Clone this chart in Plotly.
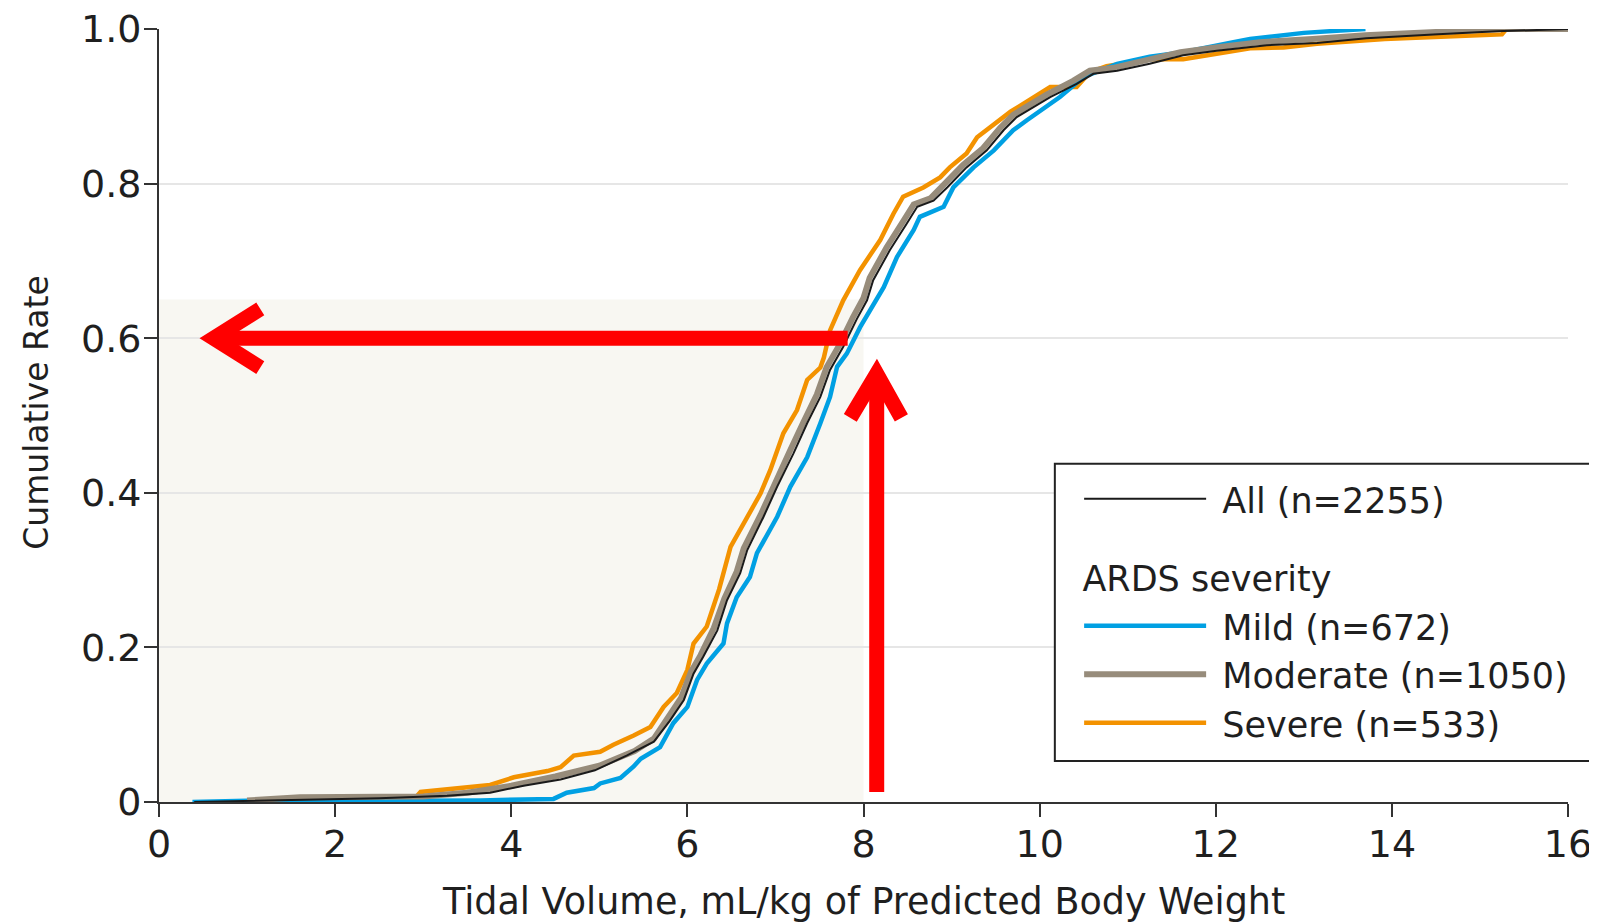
import plotly.graph_objects as go

# ---------------- data ----------------
all_x = [0.40, 1.2, 2.0, 2.5, 3.27, 3.76, 4.14, 4.56, 4.95, 5.31, 5.62, 5.80, 5.96, 6.07, 6.18,
         6.34, 6.45, 6.60, 6.68, 6.865, 7.02, 7.205, 7.36, 7.51, 7.62, 7.77, 7.925, 8.04, 8.11,
         8.30, 8.49, 8.61, 8.795, 8.95, 9.17, 9.40, 9.59, 9.74, 10.12, 10.42, 10.61, 10.88,
         11.25, 11.63, 12.01, 12.58, 13.15, 13.71, 14.47, 15.19, 16.0]
all_y = [0.0, 0.002, 0.004, 0.005, 0.008, 0.012, 0.021, 0.029, 0.041, 0.060, 0.078, 0.105, 0.132,
         0.166, 0.188, 0.222, 0.261, 0.296, 0.326, 0.369, 0.408, 0.451, 0.490, 0.524, 0.559,
         0.589, 0.625, 0.649, 0.675, 0.714, 0.748, 0.770, 0.778, 0.795, 0.821, 0.843, 0.869,
         0.886, 0.912, 0.929, 0.942, 0.946, 0.955, 0.966, 0.972, 0.979, 0.982, 0.988, 0.993,
         0.997, 1.0]

mild_x = [0.38, 1.0, 2.8, 3.65, 4.48, 4.63, 4.94, 5.01, 5.24, 5.39, 5.47, 5.69, 5.84, 6.0, 6.11,
          6.22, 6.41, 6.45, 6.56, 6.71, 6.79, 7.02, 7.17, 7.36, 7.51, 7.62, 7.70, 7.81, 7.96,
          8.10, 8.23, 8.38, 8.57, 8.64, 8.91, 9.02, 9.25, 9.48, 9.70, 9.855, 10.23, 10.50,
          10.88, 11.25, 11.63, 12.20, 12.39, 13.0, 13.7]
mild_y = [0.0, 0.0015, 0.0015, 0.002, 0.004, 0.012, 0.018, 0.024, 0.031, 0.046, 0.056, 0.071,
          0.102, 0.123, 0.158, 0.179, 0.205, 0.231, 0.265, 0.291, 0.322, 0.369, 0.408, 0.446,
          0.490, 0.524, 0.563, 0.580, 0.614, 0.640, 0.666, 0.705, 0.740, 0.757, 0.770, 0.795,
          0.821, 0.843, 0.869, 0.882, 0.912, 0.938, 0.955, 0.964, 0.970, 0.983, 0.987, 0.995,
          1.0]

moderate_x = [1.0, 1.5, 1.6, 3.0, 3.5, 4.0, 4.5, 5.0, 5.4, 5.62, 5.78, 5.93, 6.04, 6.15, 6.30,
              6.42, 6.56, 6.64, 6.83, 6.98, 7.16, 7.32, 7.47, 7.58, 7.73, 7.88, 8.0, 8.07, 8.26,
              8.45, 8.57, 8.76, 8.91, 9.13, 9.36, 9.55, 9.70, 10.08, 10.38, 10.57, 10.85, 11.2,
              11.6, 12.0, 12.5, 13.1, 13.7, 14.5, 15.2, 16.0]
moderate_y = [0.002, 0.004, 0.006, 0.007, 0.012, 0.021, 0.033, 0.047, 0.066, 0.082, 0.108, 0.135,
              0.168, 0.190, 0.225, 0.263, 0.298, 0.328, 0.371, 0.410, 0.453, 0.492, 0.527, 0.562,
              0.592, 0.627, 0.652, 0.678, 0.717, 0.751, 0.773, 0.781, 0.798, 0.824, 0.846, 0.872,
              0.889, 0.915, 0.933, 0.946, 0.950, 0.960, 0.970, 0.976, 0.983, 0.987, 0.992, 0.996,
              1.0, 1.0]

severe_x = [1.6, 2.9, 2.97, 3.27, 3.76, 4.03, 4.41, 4.56, 4.71, 5.01, 5.16, 5.39, 5.58, 5.73, 5.88,
            6.0, 6.07, 6.22, 6.30, 6.36, 6.49, 6.68, 6.83, 6.94, 7.09, 7.245, 7.36, 7.51, 7.55,
            7.62, 7.77, 7.96, 8.19, 8.34, 8.45, 8.68, 8.87, 8.98, 9.17, 9.29, 9.67, 10.12, 10.42,
            10.57, 10.76, 11.25, 11.63, 12.01, 12.39, 12.77, 13.15, 13.92, 14.17, 15.04, 15.25,
            15.3]
severe_y = [0.002, 0.004, 0.013, 0.016, 0.022, 0.032, 0.040, 0.045, 0.060, 0.065, 0.074, 0.086,
            0.097, 0.123, 0.141, 0.171, 0.205, 0.227, 0.252, 0.275, 0.330, 0.369, 0.399, 0.429,
            0.477, 0.507, 0.546, 0.562, 0.575, 0.610, 0.649, 0.688, 0.727, 0.761, 0.783, 0.795,
            0.808, 0.821, 0.839, 0.860, 0.893, 0.925, 0.925, 0.944, 0.952, 0.961, 0.961, 0.968,
            0.975, 0.976, 0.981, 0.987, 0.988, 0.991, 0.993, 1.0]

series_names = ["All (n=2255)", "Mild (n=672)", "Moderate (n=1050)", "Severe (n=533)"]
group_title = "ARDS severity"
x_title = "Tidal Volume, mL/kg of Predicted Body Weight"
y_title = "Cumulative Rate"
x_ticks = [0, 2, 4, 6, 8, 10, 12, 14, 16]
y_ticks = [0, 0.2, 0.4, 0.6, 0.8, 1.0]
y_tick_labels = ["0", "0.2", "0.4", "0.6", "0.8", "1.0"]

# highlighted region and arrows (annotation geometry, in data units)
shade_x = [0, 8.0]
shade_y = [0, 0.65]
h_arrow_shaft = [(0.66, 0.6), (7.82, 0.6)]
h_arrow_head = [(1.15, 0.638), (0.62, 0.6), (1.15, 0.562)]
v_arrow_shaft = [(8.15, 0.013), (8.15, 0.54)]
v_arrow_head = [(7.85, 0.497), (8.15, 0.554), (8.43, 0.497)]

# ---------------- styles ----------------
FONT = "DejaVu Sans"
TXT = "#1f1f1f"
C_ALL = "#1a1a1a"
C_MILD = "#00a0e3"
C_MOD = "#978c7b"
C_SEV = "#f39200"
RED = "#ff0000"
NB = "\u00a0"

fig = go.Figure()

# draw order: severe, mild, moderate, all (all on top)
fig.add_trace(go.Scatter(x=severe_x, y=severe_y, mode="lines", name=NB + series_names[3],
                         line=dict(color=C_SEV, width=4.5), legendgroup="sev",
                         legendrank=4, cliponaxis=False,
                         legendgrouptitle=dict(text=NB + NB + group_title,
                                               font=dict(size=35, color=TXT, family=FONT))))
fig.add_trace(go.Scatter(x=mild_x, y=mild_y, mode="lines", name=NB + series_names[1],
                         line=dict(color=C_MILD, width=4.5), legendgroup="sev",
                         legendrank=2, cliponaxis=False))
fig.add_trace(go.Scatter(x=moderate_x, y=moderate_y, mode="lines", name=NB + series_names[2],
                         line=dict(color=C_MOD, width=6), legendgroup="sev",
                         legendrank=3, cliponaxis=False))
fig.add_trace(go.Scatter(x=all_x, y=all_y, mode="lines", name=NB + series_names[0],
                         line=dict(color=C_ALL, width=2), legendgroup="all",
                         legendrank=1, cliponaxis=False))

shapes = [
    dict(type="rect", xref="x", yref="y", x0=shade_x[0], x1=shade_x[1], y0=shade_y[0], y1=shade_y[1],
         fillcolor="#f8f7f2", line=dict(width=0), layer="below"),
    # legend frame
    dict(type="rect", xref="paper", yref="paper", x0=0.6358, x1=1.0185, y0=0.053, y1=0.4376,
         fillcolor="white", line=dict(color="#222222", width=2), layer="above"),
]


def path_of(pts):
    return "M " + " L ".join(f"{px},{py}" for px, py in pts)


for pts in (h_arrow_shaft, h_arrow_head, v_arrow_shaft, v_arrow_head):
    shapes.append(dict(type="path", xref="x", yref="y", path=path_of(pts),
                       line=dict(color=RED, width=15), layer="above"))

annotations = [
    dict(text=x_title, xref="paper", yref="paper", x=0.5, y=-0.129, xanchor="center",
         yanchor="middle", showarrow=False, font=dict(size=36.5, family=FONT, color=TXT)),
    dict(text=y_title, xref="paper", yref="paper", x=-0.087, y=0.504, xanchor="center",
         yanchor="middle", textangle=-90, showarrow=False, font=dict(size=33, family=FONT, color=TXT)),
]

# the page body adds an 8px offset, margins compensate for it
fig.update_layout(
    width=1597, height=924,
    margin=dict(l=150.5, r=36.5, t=20.5, b=130),
    paper_bgcolor="white", plot_bgcolor="white",
    font=dict(family=FONT, color=TXT, size=35),
    shapes=shapes,
    annotations=annotations,
    showlegend=True,
    legend=dict(
        x=0.636, y=0.430, xanchor="left", yanchor="top",
        bgcolor="rgba(0,0,0,0)", borderwidth=0,
        font=dict(size=35, family=FONT, color=TXT),
        itemwidth=122, tracegroupgap=30, traceorder="grouped",
        indentation=24,
    ),
    xaxis=dict(
        range=[0, 16], tickvals=x_ticks, showgrid=False, zeroline=False,
        showline=True, linecolor="#333333", linewidth=2, automargin=False,
        ticks="outside", ticklen=13, tickwidth=2, tickcolor="#333333",
        tickfont=dict(size=38), ticklabelstandoff=-6, ticklabeloverflow="allow",
    ),
    yaxis=dict(
        range=[0, 1], tickvals=y_ticks, ticktext=y_tick_labels, automargin=False,
        showgrid=True, gridcolor="#e6e6e6", gridwidth=2, zeroline=False,
        showline=True, linecolor="#333333", linewidth=2,
        ticks="outside", ticklen=13, tickwidth=2, tickcolor="#333333",
        tickfont=dict(size=38), ticklabelstandoff=-5, ticklabeloverflow="allow",
    ),
)

fig.write_html("out.html")
